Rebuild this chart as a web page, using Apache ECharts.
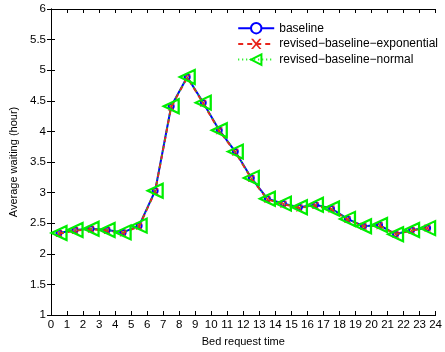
<!DOCTYPE html>
<html><head><meta charset="utf-8">
<script src="https://cdn.jsdelivr.net/npm/echarts@6/dist/echarts.min.js"></script>
<style>html,body{margin:0;padding:0;background:#fff}#c{width:445px;height:352px}</style>
</head><body><div id="c"></div>
<script>
const hours = [0.5,1.5,2.5,3.5,4.5,5.5,6.5,7.5,8.5,9.5,10.5,11.5,12.5,13.5,14.5,15.5,16.5,17.5,18.5,19.5,20.5,21.5,22.5,23.5];
const baseline = [2.34,2.39,2.41,2.39,2.35,2.46,3.03,4.41,4.89,4.47,4.02,3.67,3.24,2.90,2.82,2.76,2.80,2.74,2.57,2.45,2.47,2.32,2.39,2.42];
const revisedExp = [2.33,2.38,2.40,2.38,2.34,2.45,3.02,4.40,4.88,4.46,4.01,3.66,3.23,2.89,2.81,2.75,2.79,2.73,2.56,2.45,2.46,2.32,2.38,2.42];
const revisedNormal = [2.34,2.39,2.41,2.39,2.35,2.46,3.03,4.41,4.89,4.47,4.02,3.67,3.24,2.90,2.82,2.76,2.80,2.74,2.57,2.45,2.47,2.32,2.39,2.42];
const seriesNames = ['baseline','revised\u2212baseline\u2212exponential','revised\u2212baseline\u2212normal'];
const xTicks = {min:0,max:24,interval:1};
const yTicks = {min:1,max:6,interval:0.5};

const font = 'Liberation Sans, Arial, sans-serif';
const pair = (xs, ys) => xs.map((x,i)=>[x,ys[i]]);
const chart = echarts.init(document.getElementById('c'));
const axisCommon = {
  axisLine:{show:true,lineStyle:{color:'#000',width:1}},
  axisTick:{show:true,inside:true,length:4,lineStyle:{color:'#000'}},
  splitLine:{show:false}
};
chart.setOption({
  animation:false,
  textStyle:{fontFamily:font},
  grid:{left:49,right:6,top:9,bottom:36,containLabel:false},
  legend:{
    orient:'vertical', right:6, top:21, itemWidth:36, itemHeight:13, itemGap:3.5,
    backgroundColor:'#fff', padding:[1,1,1,1],
    textStyle:{fontFamily:font,fontSize:12,color:'#000'},
    data:seriesNames
  },
  xAxis:[
    Object.assign({type:'value',min:xTicks.min,max:xTicks.max,interval:xTicks.interval,
      name:'Bed request time',nameLocation:'middle',nameGap:21,
      nameTextStyle:{fontFamily:font,fontSize:11,color:'#000'},
      axisLabel:{fontFamily:font,fontSize:11.5,color:'#000',margin:4}},axisCommon),
    Object.assign({type:'value',position:'top',min:xTicks.min,max:xTicks.max,interval:xTicks.interval,
      axisLabel:{show:false}},axisCommon)
  ],
  yAxis:[
    Object.assign({type:'value',min:yTicks.min,max:yTicks.max,interval:yTicks.interval,
      name:'Average waiting (hour)',nameLocation:'middle',nameGap:32,
      nameTextStyle:{fontFamily:font,fontSize:11,color:'#000'},
      axisLabel:{fontFamily:font,fontSize:11.5,color:'#000',margin:5}},axisCommon),
    Object.assign({type:'value',position:'right',min:yTicks.min,max:yTicks.max,interval:yTicks.interval,
      axisLabel:{show:false}},axisCommon)
  ],
  series:[
    {name:seriesNames[0],type:'line',data:pair(hours,baseline),
      lineStyle:{color:'#0000ff',width:2},itemStyle:{color:'#0000ff',borderColor:'#0000ff',borderWidth:1.5},
      symbol:'emptyCircle',symbolSize:5,z:2},
    {name:seriesNames[1],type:'line',data:pair(hours,revisedExp),
      lineStyle:{color:'#e8251c',width:2,type:[5,4]},itemStyle:{color:'#e8251c'},
      symbol:'path://M0,0 L2,0 L5,3 L8,0 L10,0 L6,4 L10,8 L8,8 L5,5 L2,8 L0,8 L4,4 Z',symbolSize:7,z:3},
    {name:seriesNames[2],type:'line',data:pair(hours,revisedNormal),
      lineStyle:{color:'#00ee00',width:1.5,type:[1,3]},
      itemStyle:{color:'rgba(0,0,0,0)',borderColor:'#00ee00',borderWidth:2.2},
      symbol:'triangle',symbolRotate:90,symbolSize:[14,15],z:4}
  ]
});
</script></body></html>
